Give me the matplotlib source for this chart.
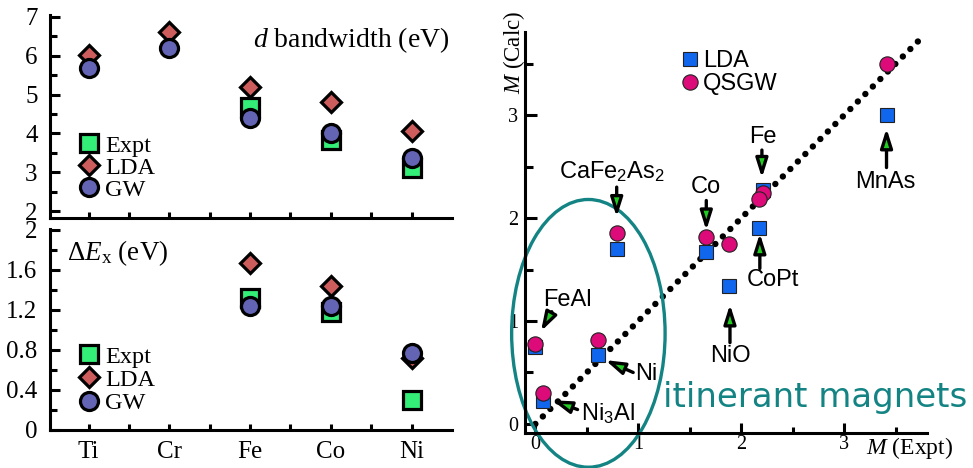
import numpy as np
import matplotlib
matplotlib.use('Agg')
import matplotlib.pyplot as plt
from matplotlib.patches import Ellipse

plt.rcParams['mathtext.fontset'] = 'custom'
plt.rcParams['mathtext.rm'] = 'Liberation Serif'
plt.rcParams['mathtext.it'] = 'Liberation Serif:italic'
plt.rcParams['mathtext.sf'] = 'Liberation Sans'

# left panels: 3d transition metals
elements = ['Ti', 'Cr', 'Fe', 'Co', 'Ni']
bw_expt = [np.nan, np.nan, 4.68, 3.82, 3.10]
bw_lda = [6.02, 6.60, 5.19, 4.82, 4.06]
bw_gw = [5.68, 6.19, 4.41, 4.00, 3.38]
dex_expt = [np.nan, np.nan, 1.32, 1.18, 0.30]
dex_lda = [np.nan, np.nan, 1.67, 1.44, 0.72]
dex_gw = [np.nan, np.nan, 1.24, 1.24, 0.77]

# right panel: magnetic moments
materials = ['MnAs', 'Fe', 'CoPt', 'Co', 'NiO', 'CaFe$_\\mathsf{2}$As$_\\mathsf{2}$', 'Ni', 'FeAl', 'Ni$_\\mathsf{3}$Al']
m_expt = [3.41, 2.21, 2.17, 1.66, 1.88, 0.79, 0.61, 0.00, 0.07]
m_lda = [3.00, 2.27, 1.90, 1.67, 1.34, 1.70, 0.67, 0.75, 0.22]
m_qsgw = [3.50, 2.24, 2.18, 1.82, 1.75, 1.85, 0.82, 0.78, 0.30]
# label position, arrow tail, arrow tip (data coords)
labels_pos = [(3.40, 2.35), (2.21, 2.79), (2.31, 1.40), (1.66, 2.30), (1.89, 0.66),
              (0.745, 2.45), (1.08, 0.49), (0.31, 1.20), (0.70, 0.10)]
arrow_tail = [(3.41, 2.49), (2.20, 2.66), (2.18, 1.51), (1.66, 2.17), (1.89, 0.79),
              (0.79, 2.30), (0.95, 0.50), (0.16, 1.09), (0.41, 0.14)]
arrow_tip = [(3.41, 2.87), (2.20, 2.39), (2.18, 1.85), (1.66, 1.88), (1.89, 1.16),
             (0.79, 2.01), (0.68, 0.62), (0.055, 0.90), (0.165, 0.23)]
diag = [0.0, 3.76]

serif = 'Liberation Serif'
sans = 'Liberation Sans'
c_expt, c_lda, c_gw = '#33EE77', '#CD5C5C', '#6464B4'
c_blue, c_mag, teal = '#1166EE', '#DD0A7A', '#138483'

fig = plt.figure(figsize=(9.73, 4.68), dpi=100)
ax1 = fig.add_axes([0.0514, 0.534, 0.413, 0.434])
ax2 = fig.add_axes([0.0514, 0.0812, 0.413, 0.4295])
ax3 = fig.add_axes([0.5396, 0.0754, 0.4128, 0.857])

x = np.arange(len(elements))


def metal_panel(ax, expt, lda, gw):
    ax.plot(x, expt, 's', ms=13.5, mfc=c_expt, mec='black', mew=2.3, label='Expt', zorder=3)
    ax.plot(x, lda, 'D', ms=10, mfc=c_lda, mec='black', mew=2.3, label='LDA', zorder=4)
    ax.plot(x, gw, 'o', ms=13, mfc=c_gw, mec='black', mew=2.3, label='GW', zorder=5)
    for s in ['top', 'right']:
        ax.spines[s].set_visible(False)
    for s in ['left', 'bottom']:
        ax.spines[s].set_linewidth(2.2)
    ax.set_xlim(-0.48, 4.5)
    ax.set_xticks(x)
    ax.set_xticks(x[:-1] + 0.5, minor=True)
    ax.tick_params(axis='y', which='major', direction='in', length=7, width=2.2, pad=9)
    ax.tick_params(axis='y', which='minor', direction='in', length=5, width=2.2)
    ax.tick_params(axis='x', which='both', direction='in', length=4, width=2.2, pad=8)


metal_panel(ax1, bw_expt, bw_lda, bw_gw)
ax1.set_ylim(1.82, 7.05)
ax1.set_yticks(np.arange(2, 8))
ax1.set_yticklabels([str(v) for v in range(2, 8)], fontfamily=serif, fontsize=18)
ax1.set_yticks(np.arange(2.5, 7, 1.0), minor=True)
ax1.set_xticklabels([])
ax1.text(0.995, 0.877, r'$d$ bandwidth (eV)', transform=ax1.transAxes, ha='right', va='center',
         fontsize=20, fontfamily=serif)
ax1.legend(loc='upper left', bbox_to_anchor=(0.067, 0.41), frameon=False, prop={'family': serif, 'size': 17.5},
           handlelength=1.0, handletextpad=0.15, labelspacing=0.0, borderpad=0, borderaxespad=0,
           numpoints=1)

metal_panel(ax2, dex_expt, dex_lda, dex_gw)
ax2.set_ylim(0, 2.01)
yt = [0, 0.4, 0.8, 1.2, 1.6, 2.0]
ax2.set_yticks(yt)
ax2.set_yticklabels(['0', '0.4', '0.8', '1.2', '1.6', '2'], fontfamily=serif, fontsize=18)
ax2.set_yticks(np.arange(0.2, 2.0, 0.4), minor=True)
ax2.set_xticklabels(elements, fontfamily=serif, fontsize=18)
ax2.text(0.042, 0.88, r'$\Delta E_{\rm x}$ (eV)', transform=ax2.transAxes, ha='left', va='center',
         fontsize=19.5, fontfamily=serif)
ax2.legend(loc='upper left', bbox_to_anchor=(0.067, 0.42), frameon=False, prop={'family': serif, 'size': 17.5},
           handlelength=1.0, handletextpad=0.15, labelspacing=0.05, borderpad=0, borderaxespad=0,
           numpoints=1)

# right panel
ax3.plot(diag, diag, color='black', lw=4.6, ls=(0, (0.01, 1.65)), dash_capstyle='round', zorder=1)
ax3.plot(m_expt, m_lda, 's', ms=10, mfc=c_blue, mec='#222222', mew=0.8, label='LDA', zorder=3)
ax3.plot(m_expt, m_qsgw, 'o', ms=11, mfc=c_mag, mec='#222222', mew=0.8, label='QSGW', zorder=4)
for name, lp, tail, tip in zip(materials, labels_pos, arrow_tail, arrow_tip):
    ax3.text(lp[0], lp[1], name, ha='center', va='center', fontsize=17, fontfamily=sans)
    ax3.annotate('', xy=tip, xytext=tail,
                 arrowprops=dict(arrowstyle='-|>,head_length=0.95,head_width=0.3', mutation_scale=12,
                                 lw=2.4, ec='black', fc='#22CC22', shrinkA=0, shrinkB=0))
ax3.set_xlim(-0.1, 3.8)
ax3.set_ylim(-0.085, 3.81)
for s in ['top', 'right']:
    ax3.spines[s].set_visible(False)
for s in ['left', 'bottom']:
    ax3.spines[s].set_linewidth(2.2)
ax3.set_xticks([0, 1, 2, 3])
ax3.set_xticks([0.5, 1.5, 2.5, 3.5], minor=True)
ax3.set_yticks([0, 1, 2, 3])
ax3.set_yticks([0.5, 1.5, 2.5, 3.5], minor=True)
ax3.set_xticklabels(['0', '1', '2', '3'], fontfamily=serif, fontsize=14.5)
ax3.set_yticklabels(['0', '1', '2', '3'], fontfamily=serif, fontsize=14.5)
ax3.tick_params(axis='y', which='major', direction='in', length=8.5, width=2.2, pad=5)
ax3.tick_params(axis='y', which='minor', direction='in', length=6, width=2.2)
ax3.tick_params(axis='x', which='major', direction='in', length=7, width=2.2, pad=2)
ax3.tick_params(axis='x', which='minor', direction='in', length=4.5, width=2.2)
ax3.text(3.63, -0.23, r'$M$ (Expt)', ha='center', va='center', fontsize=17, fontfamily=serif,
         clip_on=False)
ax3.text(-0.21, 3.61, r'$M$ (Calc)', ha='center', va='center', rotation=90, fontsize=16.5,
         fontfamily=serif, clip_on=False)
ax3.legend(loc='upper left', bbox_to_anchor=(1.43, 3.63), bbox_transform=ax3.transData, frameon=False,
           prop={'family': sans, 'size': 17}, handlelength=0.6, handletextpad=0.25, labelspacing=0.05,
           borderpad=0, borderaxespad=0, numpoints=1)
ell = Ellipse((0.515, 0.88), 1.49, 2.6, fill=False, ec=teal, lw=2.4, clip_on=False, zorder=2)
ax3.add_patch(ell)
ax3.text(1.24, 0.165, 'itinerant magnets', color=teal, fontsize=24.5, fontfamily='DejaVu Sans',
         ha='left', va='baseline')

fig.savefig('out.png', dpi=100)
